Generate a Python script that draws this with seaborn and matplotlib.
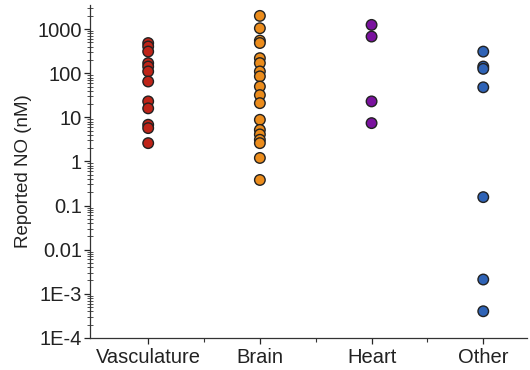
import numpy as np
import pandas as pd
import matplotlib
matplotlib.use("Agg")
import matplotlib.pyplot as plt
import seaborn as sns
from matplotlib.ticker import FixedLocator, FixedFormatter, NullFormatter

# ---- data (nM) ----
categories = ["Vasculature", "Brain", "Heart", "Other"]
vasculature = [484, 405, 311, 170, 142, 110, 65, 23, 16, 6.8, 5.7, 2.6]
brain = [2000, 1050, 550, 485, 220, 170, 110, 85, 50, 32, 21, 8.8,
         5.2, 4.1, 3.1, 2.6, 1.2, 0.38]
heart = [1250, 680, 23, 7.4]
other = [310, 142, 126, 48, 0.155, 0.0021, 0.0004]
colors = ["#BE2418", "#EB8C1C", "#7A129E", "#2F63B6"]

ytick_vals = [1e-4, 1e-3, 1e-2, 1e-1, 1, 10, 100, 1000]
ytick_labels = ["1E-4", "1E-3", "0.01", "0.1", "1", "10", "100", "1000"]

df = pd.DataFrame({
    "group": (["Vasculature"] * len(vasculature) + ["Brain"] * len(brain)
              + ["Heart"] * len(heart) + ["Other"] * len(other)),
    "value": vasculature + brain + heart + other,
})

# ---- style ----
sns.set_style("ticks")
plt.rcParams["font.family"] = ["Liberation Sans", "DejaVu Sans"]

fig = plt.figure(figsize=(5.3, 3.7), dpi=100)
ax = fig.add_axes([0.170, 0.087, 0.824, 0.899])

sns.stripplot(data=df, x="group", y="value", hue="group", order=categories,
              hue_order=categories, palette=colors, jitter=False, size=7.6,
              linewidth=1.0, edgecolor="#222222", legend=False, ax=ax,
              log_scale=True)

ax.set_ylim(1e-4, 3500)
ax.set_xlim(-0.52, 3.39)

# log axis: decade labels as in the original, dense minor ticks
minor_vals = [m * 10.0 ** e for e in range(-4, 4) for m in range(2, 10)]
ax.yaxis.set_major_locator(FixedLocator(ytick_vals))
ax.yaxis.set_major_formatter(FixedFormatter(ytick_labels))
ax.yaxis.set_minor_locator(FixedLocator(minor_vals))
ax.yaxis.set_minor_formatter(NullFormatter())
ax.tick_params(axis="y", which="major", direction="out", length=4, width=0.9,
               labelsize=14.5, pad=2, labelcolor="#222222")
ax.tick_params(axis="y", which="minor", direction="inout", length=4, width=0.6,
               left=True, color="#333333")

ax.set_xticks(range(len(categories)))
ax.set_xticklabels(categories)
ax.set_xticks([0.5, 1.5, 2.5], minor=True)
ax.tick_params(axis="x", which="major", direction="out", length=4, width=0.9,
               labelsize=14.5, pad=3, labelcolor="#222222")
ax.tick_params(axis="x", which="minor", direction="out", length=3, width=0.8,
               bottom=True, color="#333333")

ax.set_xlabel("")
ax.set_ylabel("Reported NO (nM)", fontsize=13.5, labelpad=4, color="#222222")

sns.despine(ax=ax)
for s in ["left", "bottom"]:
    ax.spines[s].set_linewidth(0.9)
    ax.spines[s].set_color("#333333")

fig.savefig("out.png", dpi=100)
